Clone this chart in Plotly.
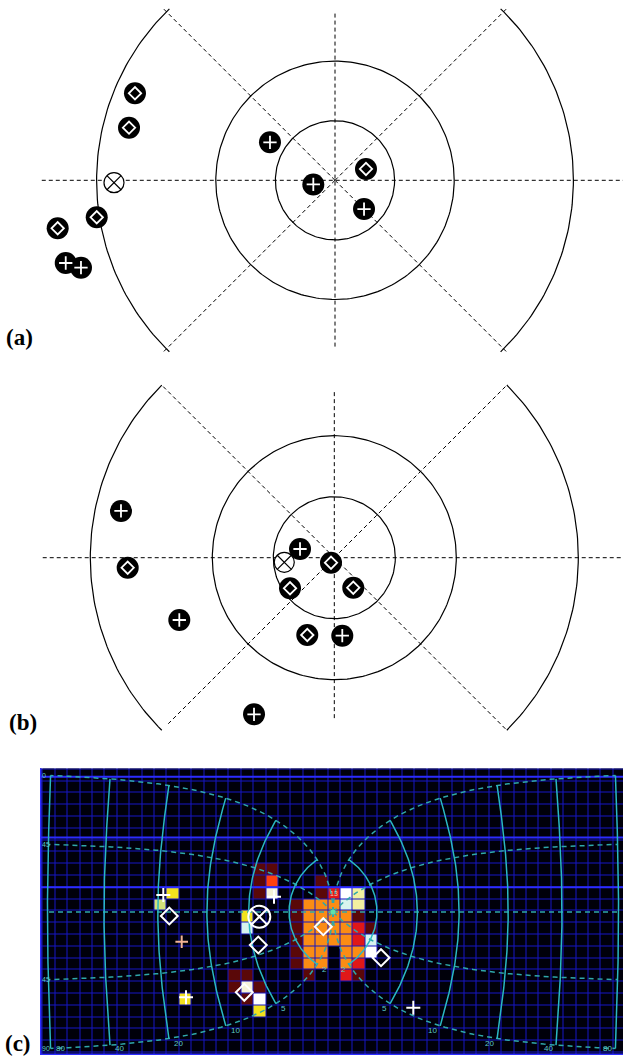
import numpy as np
import plotly.graph_objects as go

W, H = 623, 1060

# ---------------- panel (a) data (units: inner ring radius = 1) ----------------
A_DIAMOND_X = [-3.356, -3.456, -3.998, -4.653, 0.520]
A_DIAMOND_Y = [1.460, 0.883, -0.621, -0.805, 0.190]
A_PLUS_X = [-4.518, -4.262, -1.091, -0.364, 0.487]
A_PLUS_Y = [-1.388, -1.466, 0.638, -0.070, -0.482]
A_CROSS_X = [-3.708]
A_CROSS_Y = [-0.040]

# ---------------- panel (b) data ----------------
B_DIAMOND_X = [-3.387, -0.726, -0.443, -0.054, 0.311]
B_DIAMOND_Y = [-0.164, -0.502, -1.267, -0.082, -0.492]
B_PLUS_X = [-3.497, -2.541, -1.316, -0.562, 0.131]
B_PLUS_Y = [0.766, -1.021, -2.567, 0.143, -1.279]
B_CROSS_X = [-0.820]
B_CROSS_Y = [-0.075]

RING_RADII = [1, 2]
ARC_RADIUS = 4
SPOKE_ANGLES = [45, 135, 225, 315]

# ---------------- panel (c) data ----------------
ECCENTRICITIES = [2, 5, 10, 20, 40, 80]
ECC_LABELS = ["2", "5", "10", "20", "40", "80"]
POLAR_ANGLES = [-90, -45, 0, 45, 90]
ANGLE_LABELS = ["90", "45", "", "45", "0"]

C_DIAMOND_X = [-163.7, -74.7, -88.7, -9.7, 48.0]
C_DIAMOND_Y = [-4.0, -33.0, -80.3, -14.7, -45.7]
C_PLUS_X = [-169.7, -147.0, -59.0, 80.3]
C_PLUS_Y = [17.0, -85.3, 15.3, -95.7]
C_PEACH_X = [-151.3]
C_PEACH_Y = [-29.7]
C_CROSS_X = [-73.7]
C_CROSS_Y = [-4.7]

# activation cells: column, row, colour code
CELL_COL = [23,
            23, 24, 25, 26,
            21, 22, 23, 24, 25, 26,
            21, 22, 23, 24, 25, 26,
            21, 22, 23, 24, 25, 26, 27,
            21, 22, 23, 24, 25, 26, 27,
            21, 22, 23, 24, 25, 26, 27,
            21, 22, 23, 24, 25, 26,
            22, 25, 26,
            18, 19, 18, 19, 18, 19,
            17, 17,
            16, 17, 16, 17, 18, 17, 18, 18,
            11, 10, 12]
CELL_ROW = [10,
            11, 11, 11, 11,
            12, 12, 12, 12, 12, 12,
            13, 13, 13, 13, 13, 13,
            14, 14, 14, 14, 14, 14, 14,
            15, 15, 15, 15, 15, 15, 15,
            16, 16, 16, 16, 16, 16, 16,
            17, 17, 17, 17, 17, 17,
            18, 18, 18,
            9, 9, 10, 10, 11, 11,
            13, 14,
            18, 18, 19, 19, 19, 20, 20, 21,
            11, 12, 20]
CELL_CODE = [1,
             1, 2, 4, 5,
             1, 3, 3, 3, 6, 5,
             1, 3, 3, 3, 3, 1,
             1, 3, 3, 3, 3, 2, 1,
             1, 3, 3, 3, 3, 2, 6,
             1, 3, 3, 0, 3, 3, 4,
             1, 3, 3, 0, 3, 2,
             1, 2, 1,
             1, 1, 1, 8, 1, 10,
             7, 6,
             1, 1, 1, 10, 1, 1, 4, 7,
             7, 9, 7]
CODE_COLORS = ["#00000a", "#5a0808", "#e01818", "#fb8c14", "#ffffff",
               "#f2f0a0", "#d8f4ee", "#f2e21e", "#ff4010", "#d4e07a", "#f6f2d8"]

# grid geometry of panel (c) (pixel offsets from map centre)
N_COLS, N_ROWS = 49, 26
CELL_W, CELL_H = 12.4, 11.8
COL0_CENTER, ROW0_CENTER = -296.3, 148.6

# projection constants for the map of panel (c)
KX, KY, A0 = 86.0, 89.0, 3.0


def proj(e, th_deg, side):
    z = np.asarray(e) * np.exp(1j * np.radians(th_deg))
    w = np.log((z + A0) / A0)
    return side * KX * w.real, KY * w.imag


fig = go.Figure()

LINE_BLACK = dict(color="black", width=1.2)
DASH_BLACK = dict(color="black", width=1, dash="4px,3px")


def add_line(x, y, ax, line):
    fig.add_trace(go.Scatter(x=x, y=y, mode="lines", line=line, hoverinfo="skip",
                             showlegend=False, xaxis="x" + ax, yaxis="y" + ax))


def add_marks(x, y, ax, symbol, size, color, lcolor, lwidth):
    fig.add_trace(go.Scatter(x=x, y=y, mode="markers", xaxis="x" + ax, yaxis="y" + ax,
                             marker=dict(symbol=symbol, size=size, color=color,
                                         line=dict(color=lcolor, width=lwidth)),
                             hoverinfo="skip", showlegend=False))


def schematic(ax, arc_half, spoke_len, hline, vline):
    t = np.linspace(0, 2 * np.pi, 241)
    for r in RING_RADII:
        add_line(r * np.cos(t), r * np.sin(t), ax, LINE_BLACK)
    for c in (0, 180):
        ta = np.radians(np.linspace(c - arc_half, c + arc_half, 81))
        add_line(ARC_RADIUS * np.cos(ta), ARC_RADIUS * np.sin(ta), ax, LINE_BLACK)
    add_line([hline[0], hline[1]], [0, 0], ax, DASH_BLACK)
    add_line([0, 0], [vline[0], vline[1]], ax, DASH_BLACK)
    for ang, L in zip(SPOKE_ANGLES, spoke_len):
        a = np.radians(ang)
        add_line([0, L * np.cos(a)], [0, L * np.sin(a)], ax, DASH_BLACK)


def markers(ax, dx, dy, px, py, cx, cy, size):
    add_marks(cx, cy, ax, "circle-x", size - 2, "white", "black", 1.2)
    add_marks(dx + px, dy + py, ax, "circle", size, "black", "black", 0)
    add_marks(dx, dy, ax, "diamond-open", 9.5, "white", "white", 1.8)
    add_marks(px, py, ax, "cross-thin-open", 9.5, "white", "white", 1.8)


# panel (a)
schematic("", 46, [4.08, 4.08, 4.08, 4.08], (-4.92, 6), (-2.79, 2.83))
markers("", A_DIAMOND_X, A_DIAMOND_Y, A_PLUS_X, A_PLUS_Y, A_CROSS_X, A_CROSS_Y, 22)
# panel (b)
schematic("2", 45, [4.02, 3.98, 3.85, 3.98], (-4.78, 6), (-2.63, 2.76))
markers("2", B_DIAMOND_X, B_DIAMOND_Y, B_PLUS_X, B_PLUS_Y, B_CROSS_X, B_CROSS_Y, 22)

# ---------------- panel (c) ----------------
z = np.zeros((N_ROWS, N_COLS))
for c, r, k in zip(CELL_COL, CELL_ROW, CELL_CODE):
    z[r, c] = k
xs = COL0_CENTER + CELL_W * np.arange(N_COLS)
ys = ROW0_CENTER - CELL_H * np.arange(N_ROWS)
n = len(CODE_COLORS)
cs = []
for i, col in enumerate(CODE_COLORS):
    cs.append([i / n, col])
    cs.append([(i + 1) / n, col])
fig.add_trace(go.Heatmap(x=xs, y=ys, z=z, zmin=-0.5, zmax=n - 0.5, colorscale=cs,
                         showscale=False, xgap=1, ygap=1, hoverinfo="skip",
                         xaxis="x3", yaxis="y3"))

# brighter grid lines
for yv in [135.3, 74.5, 24.7]:
    add_line([-300, 300], [yv, yv], "3", dict(color="#2c2cff", width=2))
add_line([-292.5, -292.5], [-150, 150], "3", dict(color="#2c2cff", width=2))
add_line([-300, 300], [-142.5, -142.5], "3", dict(color="#2c2cff", width=2))

CYAN = "#2ab8c2"
CYAN_D = "#2fa8aa"
th = np.linspace(-90, 90, 91)
ee = np.concatenate([[0], np.geomspace(0.02, 80, 120)])
for side in (-1, 1):
    for ang in POLAR_ANGLES:
        x, y = proj(ee, ang, side)
        add_line(x, y, "3", dict(color=CYAN_D, width=1.5, dash="5px,4px"))
    for e in ECCENTRICITIES:
        x, y = proj(e, th, side)
        add_line(x, y, "3", dict(color=CYAN, width=1.5))

annotations = []
for side in (-1, 1):
    for e, lab in zip(ECCENTRICITIES, ECC_LABELS):
        x, y = proj(e, -90, side)
        annotations.append(dict(x=float(x) + (3 if side < 0 else -1), y=max(float(y) - 5, -136.5),
                                xref="x3", yref="y3", text=lab, showarrow=False,
                                xanchor="left" if side < 0 else "right", yanchor="middle",
                                font=dict(family="Liberation Sans", size=8, color="#5cc8c8")))
for ang, lab in zip(POLAR_ANGLES, ANGLE_LABELS):
    if not lab:
        continue
    x, y = proj(80, ang, -1)
    annotations.append(dict(x=-293, y=max(min(float(y), 137), -137), xref="x3", yref="y3",
                            text=lab, showarrow=False, xanchor="left", yanchor="middle",
                            font=dict(family="Liberation Sans", size=7, color="#5cc8c8")))

# fovea dot and cell label
add_marks([0], [0], "3", "circle", 5, "#60e0a8", "#60e0a8", 0)
annotations.append(dict(x=1.3, y=18.8, xref="x3", yref="y3", text="13", showarrow=False,
                        font=dict(family="Liberation Sans", size=7, color="#ffc0b0")))

# markers of panel (c)
add_marks(C_CROSS_X, C_CROSS_Y, "3", "circle-x-open", 22, "white", "white", 2)
add_marks(C_DIAMOND_X, C_DIAMOND_Y, "3", "diamond-open", 13, "white", "white", 2)
add_marks(C_PLUS_X, C_PLUS_Y, "3", "cross-thin-open", 10, "white", "white", 2)
add_marks(C_PEACH_X, C_PEACH_Y, "3", "cross-thin-open", 9, "#f2b494", "#f2b494", 2)

# panel letters
for txt, px, py in [("(a)", 4, 337), ("(b)", 7, 722), ("(c)", 3, 1043)]:
    annotations.append(dict(x=px / W, y=1 - py / H, xref="paper", yref="paper",
                            text="<b>" + txt + "</b>",
                            showarrow=False, xanchor="left", yanchor="middle",
                            font=dict(family="Liberation Serif", size=23, color="black")))

ax_common = dict(visible=False, fixedrange=True, showgrid=False, zeroline=False)
fig.update_layout(
    width=W, height=H, margin=dict(l=0, r=0, t=0, b=0),
    paper_bgcolor="white", plot_bgcolor="rgba(0,0,0,0)",
    xaxis=dict(domain=[0, 1], range=[-335 / 59.6, (623 - 335) / 59.6], anchor="y", **ax_common),
    yaxis=dict(domain=[1 - 360 / H, 1], range=[-(360 - 180.3) / 59.6, 180.3 / 59.6], anchor="x", **ax_common),
    xaxis2=dict(domain=[0, 1], range=[-334.3 / 61, (623 - 334.3) / 61], anchor="y2", **ax_common),
    yaxis2=dict(domain=[1 - 750 / H, 1 - 365 / H], range=[-(750 - 557.7) / 61, (557.7 - 365) / 61],
                anchor="x2", **ax_common),
    xaxis3=dict(domain=[40 / W, 1], range=[-293, 290], anchor="y3", **ax_common),
    yaxis3=dict(domain=[1 - 1055 / H, 1 - 768.3 / H], range=[-143, 143.7], anchor="x3", **ax_common),
    shapes=[dict(type="rect", xref="x3", yref="y3", x0=-293, x1=290, y0=-143, y1=143.7,
                 fillcolor="#1616c4", line=dict(width=0), layer="below")],
    annotations=annotations,
)

fig.write_html("out.html", config={"displayModeBar": False},
               post_script="document.body.style.margin='0px';document.body.style.overflow='hidden';")
